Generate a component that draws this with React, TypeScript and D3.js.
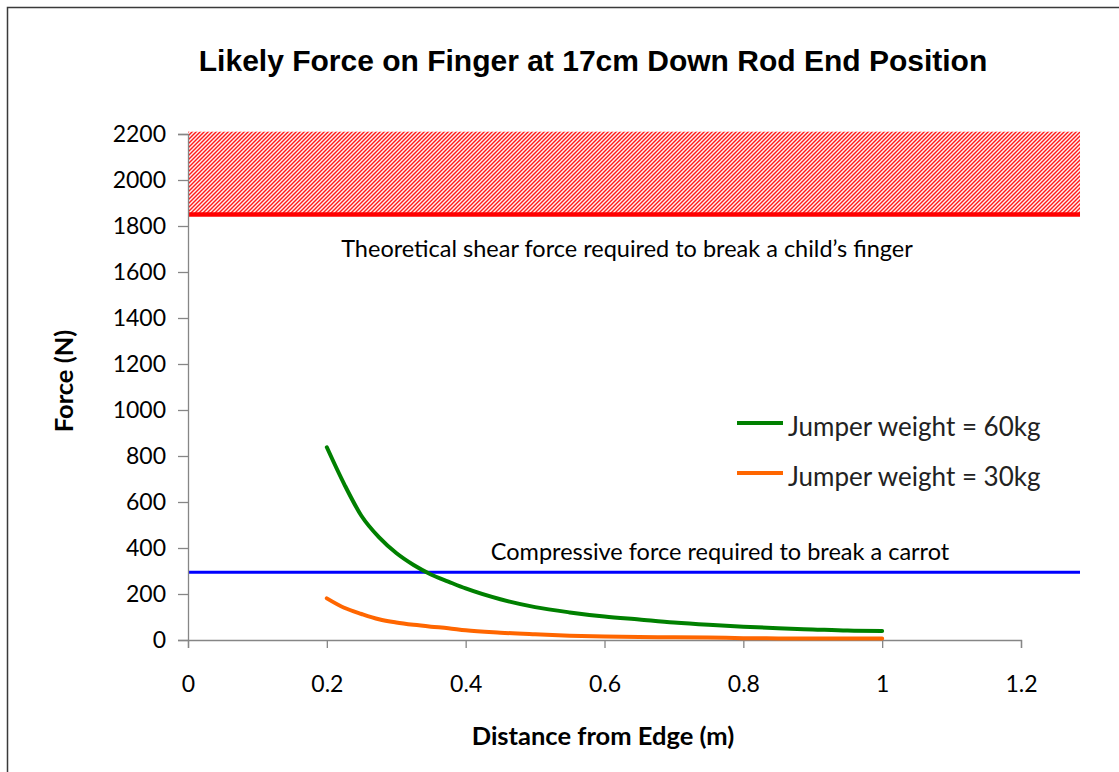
import React, { useEffect, useRef } from 'react';
import * as d3 from 'd3';

const distances = [0.2, 0.225, 0.25, 0.275, 0.3, 0.325, 0.35, 0.375, 0.4, 0.45, 0.5, 0.55, 0.6, 0.65, 0.7, 0.75, 0.8, 0.85, 0.9, 0.95, 1.0];
const force60kg = [838, 678, 539, 447, 378, 326, 285, 254, 224, 177, 143, 120, 102, 89, 76, 66, 58, 51, 46, 41, 39];
const force30kg = [181, 140, 113, 90, 76, 66, 58, 51, 42, 32, 25, 19, 15, 13, 12, 11, 8, 7, 7, 7, 7];

const seriesNames = ['Jumper weight = 60kg', 'Jumper weight = 30kg'];
const seriesColors = ['#008000', '#FF6600'];

// reference lines
const fingerShear = 1850;
const fingerZoneTop = 2210;
const carrotForce = 295;
const refLineEnd = 1.285;

const xTicks = [0, 0.2, 0.4, 0.6, 0.8, 1, 1.2];
const yTicks = [0, 200, 400, 600, 800, 1000, 1200, 1400, 1600, 1800, 2000, 2200];

const W = 1119;
const H = 772;
const labelFont = 'Lato, "Open Sans", sans-serif';

export default function App() {
  const ref = useRef<SVGSVGElement>(null);

  useEffect(() => {
    const svg = d3.select(ref.current);
    svg.selectAll('*').remove();

    const x = d3.scaleLinear().domain([0, 1.2]).range([188, 1021]);
    const y = d3.scaleLinear().domain([0, 2200]).range([640, 134]);

    // outer chart border
    svg.append('rect')
      .attr('x', 7.5).attr('y', 7.5)
      .attr('width', W + 20).attr('height', H + 20)
      .attr('fill', 'white')
      .attr('stroke', '#3a3a3a')
      .attr('stroke-width', 1.5);

    // hatch pattern
    const defs = svg.append('defs');
    const pat = defs.append('pattern')
      .attr('id', 'hatch')
      .attr('patternUnits', 'userSpaceOnUse')
      .attr('width', 4).attr('height', 4);
    pat.append('rect').attr('width', 4).attr('height', 4).attr('fill', '#fff0f0');
    pat.append('path')
      .attr('d', 'M-1,5 L5,-1 M-1,1 L1,-1 M3,5 L5,3')
      .attr('stroke', '#ff1a1a')
      .attr('stroke-width', 1.4);

    svg.append('rect')
      .attr('x', x(0))
      .attr('y', y(fingerZoneTop))
      .attr('width', x(refLineEnd) - x(0))
      .attr('height', y(fingerShear) - y(fingerZoneTop))
      .attr('fill', 'url(#hatch)');

    svg.append('line')
      .attr('x1', x(0)).attr('x2', x(refLineEnd))
      .attr('y1', y(fingerShear)).attr('y2', y(fingerShear))
      .attr('stroke', '#ff0000').attr('stroke-width', 4.5);

    svg.append('line')
      .attr('x1', x(0)).attr('x2', x(refLineEnd))
      .attr('y1', y(carrotForce)).attr('y2', y(carrotForce))
      .attr('stroke', '#0000ff').attr('stroke-width', 3);

    // axes
    const axisColor = '#868686';
    const yAxis = svg.append('g')
      .attr('transform', `translate(${x(0)},0)`)
      .call(d3.axisLeft(y).tickValues(yTicks).tickSize(10).tickPadding(12).tickFormat(d3.format('d')));
    const xAxis = svg.append('g')
      .attr('transform', `translate(0,${y(0)})`)
      .call(d3.axisBottom(x).tickValues(xTicks).tickSize(8).tickPadding(28).tickFormat((d: any) => String(d)));
    [yAxis, xAxis].forEach(g => {
      g.select('.domain').attr('stroke', axisColor).attr('stroke-width', 1.3);
      g.selectAll('.tick line').attr('stroke', axisColor).attr('stroke-width', 1.3);
      g.selectAll('.tick text')
        .attr('font-family', labelFont)
        .attr('font-size', 23)
        .attr('fill', '#000');
    });

    // data lines
    const line = d3.line<number>()
      .x((_, i) => x(distances[i]))
      .y(d => y(d))
      .curve(d3.curveMonotoneX);
    [force60kg, force30kg].forEach((vals, i) => {
      svg.append('path')
        .datum(vals)
        .attr('d', line)
        .attr('fill', 'none')
        .attr('stroke', seriesColors[i])
        .attr('stroke-width', 4)
        .attr('stroke-linecap', 'round');
    });

    // annotations
    svg.append('text')
      .attr('x', 627).attr('y', 257)
      .attr('text-anchor', 'middle')
      .attr('font-family', labelFont).attr('font-size', 23.5)
      .text('Theoretical shear force required to break a child\u2019s finger');
    svg.append('text')
      .attr('x', 720).attr('y', 560)
      .attr('text-anchor', 'middle')
      .attr('font-family', labelFont).attr('font-size', 23.5)
      .text('Compressive force required to break a carrot');

    // legend
    const legend = svg.append('g');
    seriesNames.forEach((name, i) => {
      const ly = 423 + i * 50;
      legend.append('line')
        .attr('x1', 737).attr('x2', 783)
        .attr('y1', ly).attr('y2', ly)
        .attr('stroke', seriesColors[i]).attr('stroke-width', 4);
      legend.append('text')
        .attr('x', 788).attr('y', ly + 13)
        .attr('font-family', labelFont).attr('font-size', 26)
        .attr('fill', '#222')
        .text(name);
    });

    // titles
    svg.append('text')
      .attr('x', 593).attr('y', 71)
      .attr('text-anchor', 'middle')
      .attr('font-family', '"Liberation Sans", Arial, sans-serif')
      .attr('font-weight', 'bold').attr('font-size', 30)
      .text('Likely Force on Finger at 17cm Down Rod End Position');
    svg.append('text')
      .attr('x', 603).attr('y', 745)
      .attr('text-anchor', 'middle')
      .attr('font-family', labelFont)
      .attr('font-weight', 'bold').attr('font-size', 25.5)
      .text('Distance from Edge (m)');
    svg.append('text')
      .attr('transform', 'translate(73,381) rotate(-90)')
      .attr('text-anchor', 'middle')
      .attr('font-family', labelFont)
      .attr('font-weight', 'bold').attr('font-size', 25.5)
      .text('Force (N)');
  }, []);

  return (
    <svg ref={ref} width={W} height={H}
      style={{ position: 'absolute', left: 0, top: 0, background: 'white' }} />
  );
}
